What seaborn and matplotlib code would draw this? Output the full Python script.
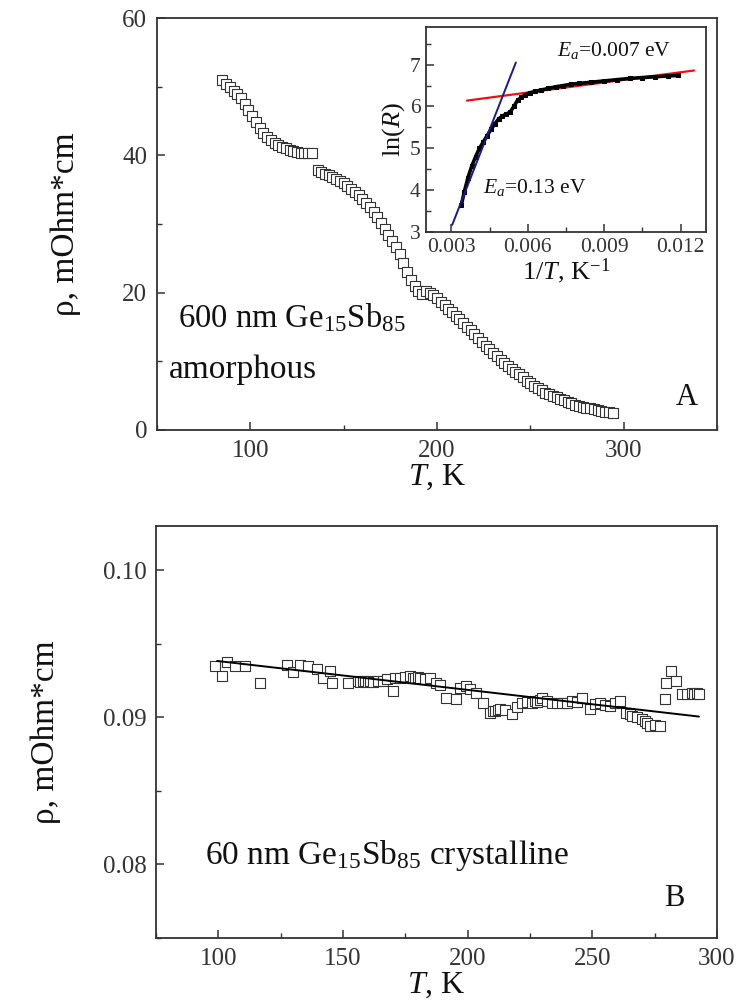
import matplotlib
matplotlib.use("Agg")
import matplotlib.pyplot as plt
import seaborn as sns
import numpy as np
from matplotlib.ticker import MultipleLocator, FormatStrFormatter

# ---------------- Panel A: amorphous 600 nm film ----------------
T_A = [85, 87, 89, 91, 93, 95, 97, 99, 101, 103, 105, 107, 109, 111, 113, 115, 117,
       119, 121, 123, 125, 127, 129, 131, 133,
       136, 138, 140, 142, 144, 146, 148, 150, 152, 154, 156, 158, 160, 162, 164,
       166, 168, 170, 172, 174, 176, 178, 180, 182, 184, 186, 188, 190, 192,
       194, 196, 198, 200, 202, 204, 206, 208, 210, 212, 214, 216, 218, 220, 222,
       224, 226, 228, 230, 232, 234, 236, 238, 240, 242, 244, 246, 248, 250, 252,
       254, 256, 258, 260, 262, 264, 266, 268, 270, 272, 274, 276, 278, 280, 282,
       284, 286, 288, 290, 292, 294]
rho_A = [50.9, 50.4, 49.9, 49.4, 48.9, 48.3, 47.5, 46.6, 45.7, 44.9, 44.0, 43.3, 42.7,
         42.2, 41.8, 41.5, 41.2, 41.0, 40.8, 40.6, 40.5, 40.4, 40.4, 40.3, 40.3,
         37.8, 37.6, 37.3, 37.1, 36.9, 36.6, 36.3, 35.9, 35.5, 35.1, 34.7, 34.2, 33.7,
         33.1, 32.5, 31.8, 31.0, 30.2, 29.3, 28.4, 27.5, 26.6, 25.6, 24.3, 23.0, 21.8,
         20.9, 20.2, 19.8,
         20.3, 20.0, 19.6, 19.2, 18.7, 18.2, 17.65, 17.15, 16.6, 16.1, 15.6, 15.05,
         14.5, 13.95, 13.4, 12.85, 12.3, 11.75, 11.2, 10.7, 10.25, 9.8, 9.35, 8.9,
         8.5, 8.1, 7.65, 7.2, 6.8, 6.45, 6.1, 5.75, 5.45, 5.2, 4.95, 4.75, 4.55,
         4.35, 4.1, 3.9, 3.7, 3.5, 3.35, 3.25, 3.15, 3.0, 2.9, 2.8, 2.65, 2.55, 2.45]

# Inset: ln(R) vs 1/T
invT = [0.00339, 0.00350, 0.00365, 0.00380, 0.00395, 0.00410, 0.00425, 0.00440,
        0.00455, 0.00470, 0.00485, 0.00500, 0.00515, 0.00530, 0.00545, 0.00560,
        0.00575, 0.00590, 0.00610, 0.00630, 0.00650, 0.00680, 0.00710, 0.00740,
        0.00770, 0.00800, 0.00850, 0.00900, 0.00950, 0.01000, 0.01050, 0.01100,
        0.01150, 0.01190]
lnR = [3.65, 3.95, 4.30, 4.58, 4.80, 5.00, 5.15, 5.30, 5.45, 5.58, 5.70, 5.77, 5.82,
       5.86, 6.00, 6.15, 6.22, 6.28, 6.33, 6.36, 6.39, 6.43, 6.47, 6.50, 6.53, 6.55,
       6.58, 6.61, 6.64, 6.67, 6.69, 6.71, 6.73, 6.74]
fit_hi_x = [0.00303, 0.00553]
fit_hi_y = [3.17, 7.05]
fit_lo_x = [0.00361, 0.01253]
fit_lo_y = [6.14, 6.86]

# ---------------- Panel B: crystalline 60 nm film ----------------
T_B = [98.8, 101.5, 103.5, 106.8, 110.8, 116.8, 127.5, 130, 132.8, 136, 139.5, 142,
       144.8, 145.5, 152, 156, 157, 158, 159, 160, 161, 162, 164, 166, 167.5, 170,
       171, 173, 175, 177, 178, 179, 180, 181, 183, 185, 187.5, 189, 191.5, 195.5,
       197, 199.5, 201, 203.5, 206, 209, 210, 211, 212, 213, 215, 218, 220, 222,
       224, 226, 227, 228, 229, 230, 232, 234, 236, 238, 240, 242, 244, 246, 249,
       251, 253, 255, 257, 259, 261, 263.5, 265, 266, 268, 270, 271, 272, 273, 275,
       277, 279, 279.5, 281.5, 283.5, 286, 288, 290, 291, 292, 293]
rho_B = [0.09349, 0.09281, 0.09376, 0.09349, 0.09349, 0.09236, 0.09354, 0.09308,
         0.09354, 0.09349, 0.09327, 0.09270, 0.09315, 0.09231, 0.09236, 0.09247,
         0.09240, 0.09250, 0.09245, 0.09240, 0.09248, 0.09242, 0.09250, 0.09247,
         0.09259, 0.09179, 0.09270, 0.09270, 0.09275, 0.09281, 0.09270, 0.09265,
         0.09275, 0.09270, 0.09260, 0.09270, 0.09236, 0.09220, 0.09134, 0.09122,
         0.09200, 0.09213, 0.09190, 0.09168, 0.09100, 0.09032, 0.09040, 0.09045,
         0.09050, 0.09054, 0.09050, 0.09020, 0.09070, 0.09100, 0.09105, 0.09095,
         0.09110, 0.09105, 0.09115, 0.09134, 0.09110, 0.09095, 0.09100, 0.09095,
         0.09100, 0.09111, 0.09105, 0.09134, 0.09054, 0.09090, 0.09100, 0.09085,
         0.09077, 0.09095, 0.09111, 0.09032, 0.09020, 0.09009, 0.09000, 0.08986,
         0.08975, 0.08960, 0.08940, 0.08945, 0.08940, 0.09122, 0.09236, 0.09315,
         0.09247, 0.09156, 0.09160, 0.09168, 0.09160, 0.09165, 0.09156]
fit_B_x = [99.5, 292.8]
fit_B_y = [0.09383, 0.09005]

# ---------------- style ----------------
sns.set_theme(style="ticks")
plt.rcParams.update({
    "font.family": ["Liberation Serif", "DejaVu Serif"],
    "mathtext.fontset": "custom",
    "mathtext.rm": "Liberation Serif",
    "mathtext.it": "Liberation Serif:italic",
    "mathtext.bf": "Liberation Serif:bold",
    "axes.edgecolor": "#333333",
    "axes.linewidth": 1.3,
    "xtick.direction": "in",
    "ytick.direction": "in",
    "xtick.color": "#333333",
    "ytick.color": "#333333",
    "text.color": "#111111",
    "axes.labelcolor": "#111111",
})

EDGE = "#333333"
fig = plt.figure(figsize=(7.37, 10.06), dpi=100)

axA = fig.add_axes([0.213, 0.5726, 0.760, 0.4095])
axB = fig.add_axes([0.2117, 0.0676, 0.761, 0.4095])
axI = fig.add_axes([0.578, 0.7694, 0.380, 0.2038])


def style_ax(ax, tick_size, pad):
    ax.tick_params(which="major", length=6, width=1.1, labelsize=tick_size,
                   top=False, right=False, pad=pad)
    ax.tick_params(which="minor", length=3.5, width=1.0, top=False, right=False)
    for sp in ax.spines.values():
        sp.set_visible(True)
        sp.set_color(EDGE)


# Panel A
sns.scatterplot(x=T_A, y=rho_A, ax=axA, marker="s", s=60, color="white",
                edgecolor=EDGE, linewidth=0.8, zorder=3)
axA.set_xlim(50, 350)
axA.set_ylim(0, 60)
axA.xaxis.set_major_locator(MultipleLocator(100))
axA.xaxis.set_minor_locator(MultipleLocator(50))
axA.yaxis.set_major_locator(MultipleLocator(20))
axA.yaxis.set_minor_locator(MultipleLocator(10))
style_ax(axA, 18, 7)
axA.set_xlabel(r"$T$, K", fontsize=23, labelpad=1)
axA.set_ylabel("ρ, mOhm*cm", fontsize=24, labelpad=30)
axA.text(61, 16.4, r"600 nm Ge$_{15}$Sb$_{85}$", fontsize=23.5, ha="left", va="center")
axA.text(56.2, 8.7, "amorphous", fontsize=24, ha="left", va="center")
axA.text(333.7, 4.8, "A", fontsize=22, ha="center", va="center")

# Inset
sns.lineplot(x=invT, y=lnR, ax=axI, color="black", lw=2.6, marker="s",
             markersize=2.5, markeredgecolor="black", zorder=3)
sns.lineplot(x=fit_lo_x, y=fit_lo_y, ax=axI, color="#ee1111", lw=1.6, zorder=2)
sns.lineplot(x=fit_hi_x, y=fit_hi_y, ax=axI, color="#1a1a8c", lw=1.4, zorder=4)
axI.set_xlim(0.002, 0.013)
axI.set_ylim(3, 7.9)
axI.xaxis.set_major_locator(MultipleLocator(0.003))
axI.xaxis.set_minor_locator(MultipleLocator(0.0015))
axI.xaxis.set_major_formatter(FormatStrFormatter("%.3f"))
axI.yaxis.set_major_locator(MultipleLocator(1))
axI.yaxis.set_minor_locator(MultipleLocator(0.5))
style_ax(axI, 15.5, 4)
axI.set_xlabel(r"1/$T$, K$^{-1}$", fontsize=19, labelpad=0)
axI.set_ylabel(r"ln($R$)", fontsize=19, labelpad=2)
axI.text(0.00714, 7.33, r"$E_a$=0.007 eV", fontsize=15.5, ha="left", va="center")
axI.text(0.00425, 4.07, r"$E_a$=0.13 eV", fontsize=15.5, ha="left", va="center")

# Panel B
sns.lineplot(x=fit_B_x, y=fit_B_y, ax=axB, color="black", lw=1.4, zorder=4)
sns.scatterplot(x=T_B, y=rho_B, ax=axB, marker="s", s=60, color="white",
                edgecolor=EDGE, linewidth=0.8, zorder=3)
axB.set_xlim(75, 300)
axB.set_ylim(0.075, 0.103)
axB.xaxis.set_major_locator(MultipleLocator(50))
axB.xaxis.set_minor_locator(MultipleLocator(25))
axB.yaxis.set_major_locator(MultipleLocator(0.01))
axB.yaxis.set_minor_locator(MultipleLocator(0.005))
axB.yaxis.set_major_formatter(FormatStrFormatter("%.2f"))
style_ax(axB, 18, 7)
axB.set_xlabel(r"$T$, K", fontsize=23, labelpad=1)
axB.set_ylabel("ρ, mOhm*cm", fontsize=24, labelpad=30)
axB.text(94.8, 0.0806, r"60 nm Ge$_{15}$Sb$_{85}$ crystalline", fontsize=24,
         ha="left", va="center")
axB.text(282.8, 0.07769, "B", fontsize=22, ha="center", va="center")

fig.savefig("out.png", dpi=100)
